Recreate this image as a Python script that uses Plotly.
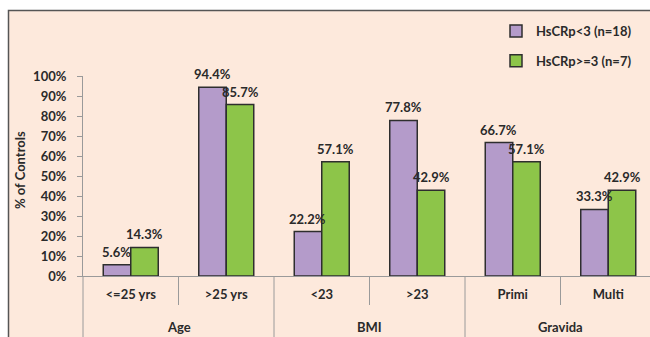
import plotly.graph_objects as go

groups = ["Age", "Age", "BMI", "BMI", "Gravida", "Gravida"]
categories = ["<=25 yrs", ">25 yrs", "<23", ">23", "Primi", "Multi"]
low_crp = [5.6, 94.4, 22.2, 77.8, 66.7, 33.3]
high_crp = [14.3, 85.7, 57.1, 42.9, 57.1, 42.9]
series_names = ["HsCRp<3 (n=18)", "HsCRp>=3 (n=7)"]
y_ticks = [0, 10, 20, 30, 40, 50, 60, 70, 80, 90, 100]

FONT = "Lato"
TXT = "#2a2a2a"
PURPLE = "#b49bca"
GREEN = "#8dc549"
OUTLINE = "#2e2e2e"
AXIS = "#9a9a9a"
PEACH = "#fde9dc"

W, H = 650, 337
ML, MR, MT, MB = 83, 0, 76, 61
cat_px = 95.5
plot_w = W - ML - MR
plot_h = H - MT - MB
x_idx = list(range(len(categories)))
bargap = 0.424
bar_px = cat_px * (1 - bargap) / 2

fig = go.Figure()
for name, vals, col, grp in [(series_names[0], low_crp, PURPLE, "a"),
                             (series_names[1], high_crp, GREEN, "b")]:
    fig.add_trace(go.Bar(
        x=x_idx, y=vals, name=name, legendgroup=grp,
        marker=dict(color=col, line=dict(color=OUTLINE, width=1.5)),
        hoverinfo="skip",
    ))

annotations = []
for k, vals in enumerate([low_crp, high_crp]):
    shift = -bar_px / 2 if k == 0 else bar_px / 2
    for i, v in enumerate(vals):
        annotations.append(dict(
            x=i, y=v, xref="x", yref="y", text=f"{v:.1f}%", showarrow=False,
            xshift=shift, yshift=13, yanchor="middle", xanchor="center",
            font=dict(family=FONT, size=13, color=TXT, weight="bold"),
        ))

# group labels
seen = []
for i, g in enumerate(groups):
    if g in seen:
        continue
    seen.append(g)
    idxs = [j for j, gg in enumerate(groups) if gg == g]
    annotations.append(dict(
        x=(idxs[0] + idxs[-1]) / 2, y=-51 / plot_h, xref="x", yref="paper",
        text=g, showarrow=False, yanchor="middle", xanchor="center",
        font=dict(family=FONT, size=13, color=TXT, weight="bold"),
    ))

annotations.append(dict(
    x=-63 / plot_w, y=(plot_h - 94) / plot_h, xref="paper", yref="paper",
    text="% of Controls", textangle=-90, showarrow=False,
    xanchor="center", yanchor="middle",
    font=dict(family=FONT, size=13, color=TXT, weight="bold"),
))

shapes = []
# outer frame
shapes.append(dict(type="rect", xref="paper", yref="paper",
                   x0=-(ML - 8.5) / plot_w, x1=1.2,
                   y0=-1.0, y1=(plot_h + MT - 10.5) / plot_h,
                   fillcolor=PEACH, line=dict(color="#555555", width=1.5),
                   layer="below"))
# category boundaries
for b in range(len(categories) + 1):
    xb = b - 0.5
    is_group = b == 0 or b == len(categories) or groups[b - 1] != groups[b]
    y_end = -1.0 if is_group else -29 / plot_h
    if b == 0:
        shapes.append(dict(type="line", xref="paper", yref="paper",
                           x0=0, x1=0, y0=0, y1=y_end,
                           line=dict(color=AXIS, width=1)))
    else:
        shapes.append(dict(type="line", xref="x", yref="paper",
                           x0=xb, x1=xb, y0=0, y1=y_end,
                           line=dict(color=AXIS, width=1)))

fig.update_layout(
    width=W, height=H,
    margin=dict(l=ML, r=MR, t=MT, b=MB, pad=0, autoexpand=False),
    paper_bgcolor="white",
    plot_bgcolor="rgba(0,0,0,0)",
    barmode="group", bargap=bargap, bargroupgap=0,
    font=dict(family=FONT, size=12, color=TXT),
    xaxis=dict(
        range=[-0.5, -0.5 + plot_w / cat_px],
        tickmode="array", tickvals=x_idx, ticktext=categories,
        showline=True, linecolor=AXIS, linewidth=1,
        ticks="", showgrid=False, zeroline=False,
        tickfont=dict(family=FONT, size=13, color=TXT, weight="bold"),
        ticklabelstandoff=6, automargin=False,
    ),
    yaxis=dict(
        range=[0, 100], tickmode="array", tickvals=y_ticks,
        ticktext=[f"{t}%" for t in y_ticks],
        showline=True, linecolor=AXIS, linewidth=1,
        ticks="outside", ticklen=5, tickcolor=AXIS,
        showgrid=False, zeroline=False,
        tickfont=dict(family=FONT, size=13, color=TXT, weight="bold"),
        ticklabelstandoff=8, automargin=False,
    ),
    legend=dict(
        xref="container", yref="container",
        x=496 / W, y=1 - 16 / H, xanchor="left", yanchor="top",
        bgcolor="rgba(0,0,0,0)",
        font=dict(family=FONT, size=13, color=TXT, weight="bold"),
        tracegroupgap=10,
    ),
    annotations=annotations,
    shapes=shapes,
    showlegend=True,
)

fig.write_html("out.html")
